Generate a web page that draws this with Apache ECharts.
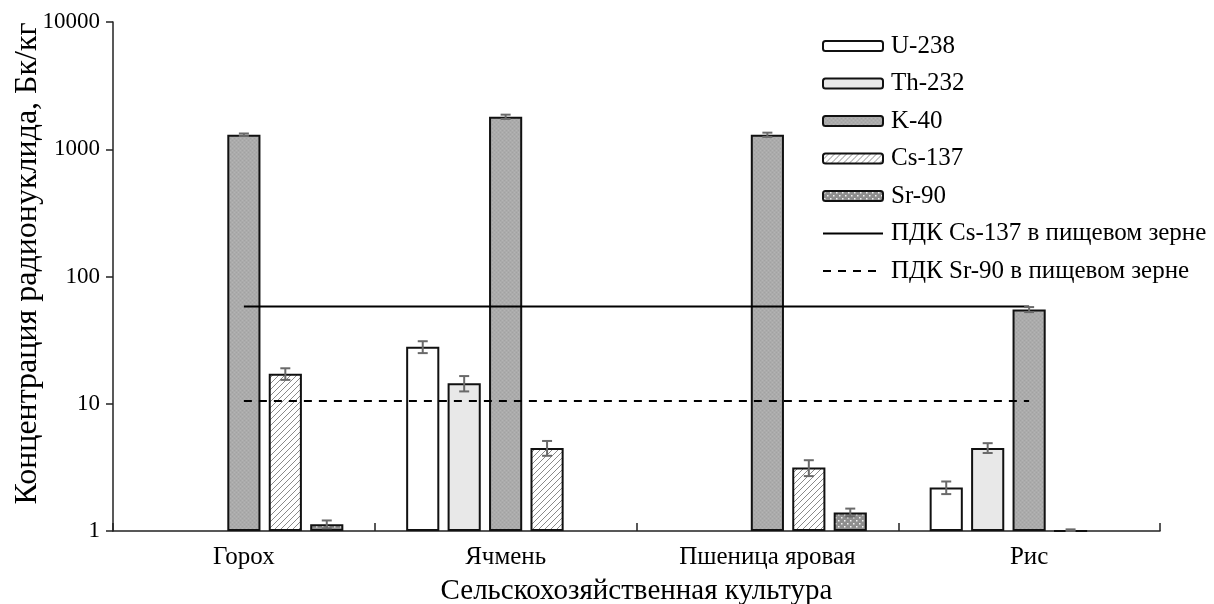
<!DOCTYPE html>
<html>
<head>
<meta charset="utf-8">
<script src="https://cdn.jsdelivr.net/npm/echarts@6/dist/echarts.min.js"></script>
<style>
  html, body { margin: 0; padding: 0; background: #fff; }
  #chart { width: 1214px; height: 604px; }
</style>
</head>
<body>
<div id="chart"></div>
<script>
// Crops and measured activity (Bq/kg), one value per crop
const categories = ['Горох', 'Ячмень', 'Пшеница яровая', 'Рис'];
const u238  = [null, 28, null, 2.2];
const th232 = [null, 14.5, null, 4.5];
const k40   = [1300, 1800, 1300, 55];
const cs137 = [17.2, 4.5, 3.15, 1.0];
const sr90  = [1.13, null, 1.4, null];

// Measurement uncertainty (±)
const u238Err  = [null, 3.0, null, 0.25];
const th232Err = [null, 2.0, null, 0.4];
const k40Err   = [30, 70, 50, 2.5];
const cs137Err = [1.8, 0.6, 0.45, 0.03];
const sr90Err  = [0.08, null, 0.1, null];

// Permissible limits in food grain
const pdkCs137 = 58;
const pdkSr90 = 10.5;

const seriesNames = ['U-238', 'Th-232', 'K-40', 'Cs-137', 'Sr-90'];
const lineNames = ['ПДК Cs-137 в пищевом зерне', 'ПДК Sr-90 в пищевом зерне'];

const FONT = '"Liberation Serif", "DejaVu Serif", serif';
const CAT_GAP = 0.24;
const BAR_GAP = 0.25;

// Fill textures
function makeCanvas(w, h, draw) {
  const c = document.createElement('canvas');
  c.width = w; c.height = h;
  draw(c.getContext('2d'));
  return c;
}
const hatchFill = makeCanvas(6, 6, g => {
  g.fillStyle = '#ffffff'; g.fillRect(0, 0, 6, 6);
  g.strokeStyle = '#8a8a8a'; g.lineWidth = 1;
  g.beginPath();
  g.moveTo(0, 6); g.lineTo(6, 0);
  g.moveTo(-1, 1); g.lineTo(1, -1);
  g.moveTo(5, 7); g.lineTo(7, 5);
  g.stroke();
});
const dotFill = makeCanvas(6, 6, g => {
  g.fillStyle = '#8e8e8e'; g.fillRect(0, 0, 6, 6);
  g.fillStyle = '#f2f2f2';
  g.fillRect(1, 1, 1.5, 1.5);
  g.fillRect(4, 4, 1.5, 1.5);
});
const greyFill = makeCanvas(4, 4, g => {
  g.fillStyle = '#ababab'; g.fillRect(0, 0, 4, 4);
  g.fillStyle = '#a2a2a2'; g.fillRect(0, 0, 1, 1); g.fillRect(2, 2, 1, 1);
  g.fillStyle = '#b4b4b4'; g.fillRect(2, 0, 1, 1); g.fillRect(0, 2, 1, 1);
});

const fills = [
  '#ffffff',
  '#e8e8e8',
  { image: greyFill, repeat: 'repeat' },
  { image: hatchFill, repeat: 'repeat' },
  { image: dotFill, repeat: 'repeat' }
];
const values = [u238, th232, k40, cs137, sr90];
const errors = [u238Err, th232Err, k40Err, cs137Err, sr90Err];

function barSeries(i) {
  return {
    name: seriesNames[i],
    type: 'bar',
    data: values[i],
    barCategoryGap: (CAT_GAP * 100) + '%',
    barGap: (BAR_GAP * 100) + '%',
    itemStyle: { color: fills[i], borderColor: '#111', borderWidth: 2 },
    emphasis: { disabled: true },
    z: 2
  };
}

function errorSeries(i) {
  const data = [];
  values[i].forEach((v, c) => {
    if (v != null && errors[i][c] != null) data.push([c, v, errors[i][c]]);
  });
  return {
    type: 'custom',
    data: data,
    z: 5,
    silent: true,
    renderItem: function (params, api) {
      const c = api.value(0), v = api.value(1), e = api.value(2);
      const a = api.coord([0, v]);
      const b = api.coord([1, v]);
      const band = b[0] - a[0];
      const bw = band * (1 - CAT_GAP) / (5 + 4 * BAR_GAP);
      const total = 5 * bw + 4 * bw * BAR_GAP;
      const center = api.coord([c, v])[0] - total / 2 + i * bw * (1 + BAR_GAP) + bw / 2;
      const hi = api.coord([c, v + e])[1];
      const lo = api.coord([c, Math.max(1, v - e)])[1];
      const cap = 5;
      const style = { stroke: '#6a6a6a', lineWidth: 2 };
      return {
        type: 'group',
        children: [
          { type: 'line', shape: { x1: center, y1: hi, x2: center, y2: lo }, style },
          { type: 'line', shape: { x1: center - cap, y1: hi, x2: center + cap, y2: hi }, style },
          { type: 'line', shape: { x1: center - cap, y1: lo, x2: center + cap, y2: lo }, style }
        ]
      };
    }
  };
}

function limitSeries(name, level, dashed) {
  return {
    name: name,
    type: 'line',
    data: categories.map(() => level),
    symbol: 'none',
    silent: true,
    lineStyle: { color: '#000', width: 2, type: dashed ? [8, 7] : 'solid' },
    itemStyle: { color: '#000' },
    z: 4
  };
}

const chart = echarts.init(document.getElementById('chart'), null, { renderer: 'canvas' });
chart.setOption({
  animation: false,
  backgroundColor: '#ffffff',
  textStyle: { fontFamily: FONT, color: '#000' },
  grid: { left: 113, right: 54, top: 22, bottom: 73, containLabel: false, outerBoundsMode: 'none' },
  legend: {
    orient: 'vertical',
    left: 822,
    top: 33,
    padding: 0,
    itemWidth: 60,
    itemHeight: 10,
    itemGap: 11.5,
    selectedMode: false,
    data: [
      ...seriesNames.map(n => ({ name: n })),
      ...lineNames.map(n => ({ name: n, itemStyle: { opacity: 0 } }))
    ],
    textStyle: { fontFamily: FONT, fontSize: 25, color: '#000', lineHeight: 26, padding: [0, 0, 0, 3] }
  },
  xAxis: {
    type: 'category',
    data: categories,
    name: 'Сельскохозяйственная культура',
    nameLocation: 'middle',
    nameGap: 46,
    nameMoveOverlap: false,
    nameTextStyle: { fontFamily: FONT, fontSize: 29, color: '#000' },
    axisLine: { lineStyle: { color: '#222', width: 1.5 } },
    axisTick: { show: true, inside: true, length: 8, alignWithLabel: false, lineStyle: { color: '#222', width: 1.5 } },
    axisLabel: { fontFamily: FONT, fontSize: 25, color: '#000', margin: 14 },
    splitLine: { show: false }
  },
  yAxis: {
    type: 'log',
    logBase: 10,
    min: 1,
    max: 10000,
    name: 'Концентрация радионуклида, Бк/кг',
    nameLocation: 'middle',
    nameGap: 69,
    nameMoveOverlap: false,
    nameTextStyle: { fontFamily: FONT, fontSize: 32, color: '#000', padding: [0, 0, 0, 26] },
    axisLine: { show: true, lineStyle: { color: '#222', width: 1.5 } },
    axisTick: { show: true, inside: false, length: 7, lineStyle: { color: '#222', width: 1.5 } },
    axisLabel: {
      fontFamily: FONT, fontSize: 23, color: '#000', margin: 13,
      formatter: v => String(Math.round(v))
    },
    splitLine: { show: false },
    minorTick: { show: false }
  },
  series: [
    ...seriesNames.map((_, i) => barSeries(i)),
    ...seriesNames.map((_, i) => errorSeries(i)),
    limitSeries(lineNames[0], pdkCs137, false),
    limitSeries(lineNames[1], pdkSr90, true)
  ]
});
</script>
</body>
</html>
